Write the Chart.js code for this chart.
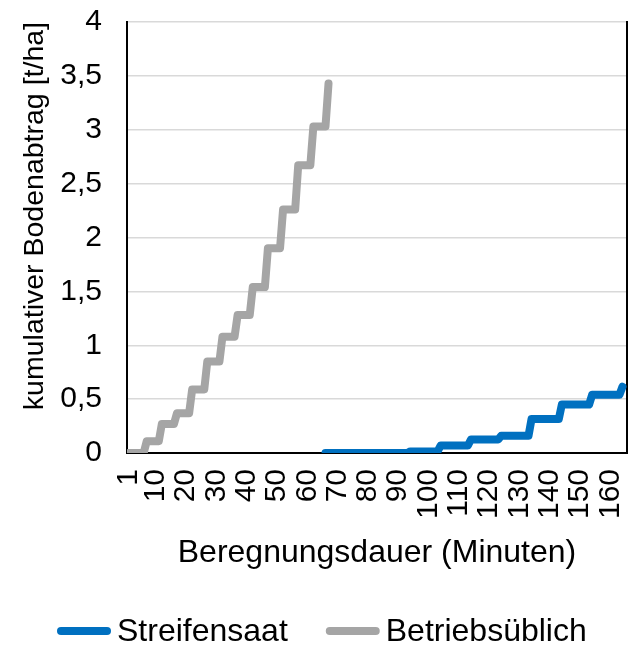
<!DOCTYPE html>
<html>
<head>
<meta charset="utf-8">
<script src="https://cdn.jsdelivr.net/npm/chart.js@4/dist/chart.umd.min.js"></script>
<style>
  html, body { margin: 0; padding: 0; background: #ffffff; }
  #wrap { width: 633px; height: 645px; }
</style>
</head>
<body>
<div id="wrap"><canvas id="chart" width="633" height="645"></canvas></div>
<script>
// Labelled minutes on the x axis
const tickMinutes = [1, 10, 20, 30, 40, 50, 60, 70, 80, 90, 100, 110, 120, 130, 140, 150, 160];
const lastMinute = 165;

// Streifensaat: corner points of the step curve (minute, cumulative soil loss in t/ha)
const streifenMinutes = [66, 93, 94, 103, 104, 113, 114, 123, 124, 133, 134, 143, 144, 153, 154, 163, 164];
const streifenValues  = [0, 0, 0.015, 0.015, 0.07, 0.07, 0.125, 0.125, 0.16, 0.16, 0.315, 0.315, 0.45, 0.45, 0.54, 0.54, 0.615];

// Betriebsüblich: corner points of the step curve
const betriebMinutes = [1, 6, 7, 11, 12, 16, 17, 21, 22, 26, 27, 31, 32, 36, 37, 41, 42, 46, 47, 51, 52, 56, 57, 61, 62, 66, 67];
const betriebValues  = [0, 0, 0.11, 0.11, 0.27, 0.27, 0.37, 0.37, 0.59, 0.59, 0.85, 0.85, 1.08, 1.08, 1.28, 1.28, 1.54, 1.54, 1.90, 1.90, 2.26, 2.26, 2.67, 2.67, 3.03, 3.03, 3.43];

const seriesNames = ['Streifensaat', 'Betriebsüblich'];
const seriesColors = ['#0070C0', '#A5A5A5'];
const yMax = 4;
const yStep = 0.5;

const FONT = '"Liberation Sans", Arial, sans-serif';
const toPoints = (xs, ys) => xs.map((x, i) => ({ x: x, y: ys[i] }));

// Legend drawn as rounded line samples followed by the series name
const lineLegend = {
  id: 'lineLegend',
  afterDraw(chart) {
    const ctx = chart.ctx;
    const y = 631;
    let x = 57;
    ctx.save();
    ctx.font = '32px ' + FONT;
    ctx.textBaseline = 'middle';
    ctx.textAlign = 'left';
    chart.data.datasets.forEach((ds) => {
      ctx.strokeStyle = ds.borderColor;
      ctx.lineWidth = 8;
      ctx.lineCap = 'round';
      ctx.beginPath();
      ctx.moveTo(x + 4, y);
      ctx.lineTo(x + 50, y);
      ctx.stroke();
      ctx.fillStyle = '#000000';
      ctx.fillText(ds.label, x + 60, y + 1);
      x += 60 + ctx.measureText(ds.label).width + 38;
    });
    ctx.restore();
  }
};

new Chart(document.getElementById('chart'), {
  type: 'line',
  data: {
    datasets: [
      {
        label: seriesNames[0],
        data: toPoints(streifenMinutes, streifenValues),
        borderColor: seriesColors[0],
        backgroundColor: seriesColors[0],
        borderWidth: 8,
        pointRadius: 0,
        tension: 0,
        borderCapStyle: 'round',
        borderJoinStyle: 'round'
      },
      {
        label: seriesNames[1],
        data: toPoints(betriebMinutes, betriebValues),
        borderColor: seriesColors[1],
        backgroundColor: seriesColors[1],
        borderWidth: 8,
        pointRadius: 0,
        tension: 0,
        borderCapStyle: 'round',
        borderJoinStyle: 'round'
      }
    ]
  },
  options: {
    responsive: false,
    animation: false,
    devicePixelRatio: 1,
    layout: { padding: { top: 22, right: 6, left: 0, bottom: 0 } },
    plugins: {
      legend: { display: false },
      tooltip: { enabled: false }
    },
    scales: {
      x: {
        type: 'linear',
        min: 0.5,
        max: lastMinute + 0.5,
        afterBuildTicks: (scale) => { scale.ticks = tickMinutes.map(v => ({ value: v })); },
        afterFit: (scale) => { scale.height = 192; scale.paddingLeft = 0; scale.paddingRight = 0; },
        grid: { display: false, drawTicks: false },
        border: { display: true, color: '#000000', width: 2 },
        ticks: {
          autoSkip: false,
          minRotation: 90,
          maxRotation: 90,
          padding: 16,
          color: '#000000',
          font: { family: FONT, size: 30 },
          callback: (v) => String(v)
        },
        title: {
          display: true,
          text: 'Beregnungsdauer (Minuten)',
          color: '#000000',
          font: { family: FONT, size: 32 },
          padding: { top: 0, bottom: 73 }
        }
      },
      y: {
        min: 0,
        max: yMax,
        afterFit: (scale) => { scale.width = 127; scale.paddingTop = 0; scale.paddingBottom = 0; },
        grid: { color: '#D9D9D9', lineWidth: 1.5, drawTicks: false },
        border: { display: true, color: '#000000', width: 2 },
        ticks: {
          stepSize: yStep,
          padding: 25,
          color: '#000000',
          font: { family: FONT, size: 30 },
          callback: (v) => String(v).replace('.', ',')
        },
        title: {
          display: true,
          align: 'end',
          text: 'kumulativer Bodenabtrag [t/ha]',
          color: '#000000',
          font: { family: FONT, size: 28.5 },
          padding: { top: 18, bottom: 0 }
        }
      },
      yRight: {
        position: 'right',
        min: 0,
        max: yMax,
        afterFit: (scale) => { scale.width = 0; },
        grid: { display: false, drawTicks: false },
        border: { display: true, color: '#000000', width: 2 },
        ticks: { display: false }
      }
    }
  },
  plugins: [lineLegend]
});
</script>
</body>
</html>
